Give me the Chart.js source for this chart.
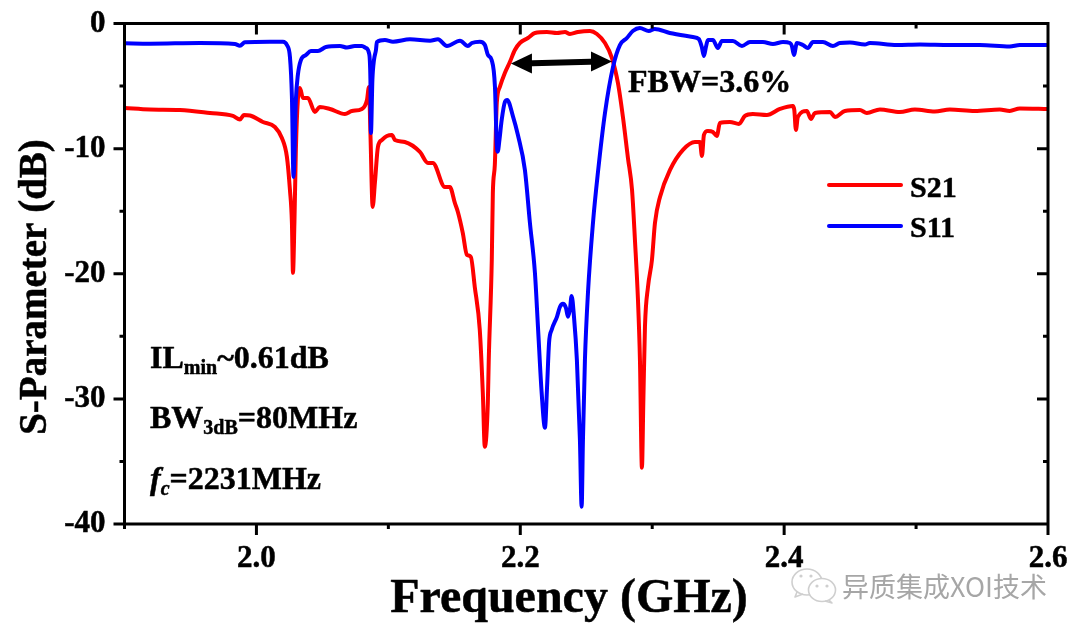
<!DOCTYPE html>
<html>
<head>
<meta charset="utf-8">
<style>html,body{margin:0;padding:0;background:#fff}canvas{display:block}</style>
<script src="https://cdn.jsdelivr.net/npm/chart.js@4/dist/chart.umd.min.js"></script>
</head>
<body>
<canvas id="c" width="1080" height="635"></canvas>
<script>
const s21Freq = [1.9002,1.9193,1.9420,1.9648,1.9822,1.9875,1.9905,1.9951,2.0049,2.0140,2.0193,2.0231,2.0254,2.0269,2.0277,2.0288,2.0299,2.0314,2.0330,2.0352,2.0390,2.0443,2.0481,2.0557,2.0671,2.0724,2.0800,2.0838,2.0853,2.0864,2.0881,2.0898,2.0921,2.0951,2.0989,2.1027,2.1050,2.1125,2.1239,2.1300,2.1337,2.1428,2.1466,2.1504,2.1527,2.1564,2.1595,2.1625,2.1655,2.1693,2.1716,2.1731,2.1754,2.1761,2.1784,2.1792,2.1807,2.1822,2.1845,2.1883,2.1921,2.1959,2.1997,2.2058,2.2111,2.2202,2.2278,2.2339,2.2376,2.2437,2.2528,2.2581,2.2642,2.2695,2.2740,2.2778,2.2816,2.2847,2.2869,2.2892,2.2907,2.2922,2.2933,2.2945,2.2968,2.2998,2.3021,2.3059,2.3135,2.3233,2.3324,2.3362,2.3377,2.3392,2.3422,2.3460,2.3490,2.3513,2.3589,2.3657,2.3703,2.3763,2.3869,2.3968,2.4066,2.4077,2.4089,2.4104,2.4172,2.4203,2.4233,2.4347,2.4385,2.4460,2.4574,2.4627,2.4726,2.4877,2.4991,2.5142,2.5256,2.5445,2.5634,2.5710,2.5786,2.6];
const s21Db = [-6.75,-6.87,-6.91,-7.15,-7.39,-7.67,-7.31,-7.35,-7.87,-8.27,-9.15,-10.66,-13.30,-15.93,-19.93,-15.93,-10.10,-6.11,-5.15,-5.95,-5.95,-7.07,-6.67,-6.83,-7.23,-6.99,-6.83,-6.11,-5.07,-8.75,-14.66,-12.74,-9.86,-9.31,-8.99,-8.91,-9.31,-9.47,-10.26,-11.14,-11.14,-13.06,-13.06,-14.34,-15.06,-16.73,-18.48,-18.65,-21.05,-24.48,-29.51,-33.83,-30.31,-26.88,-18.89,-13.54,-11.30,-6.35,-5.07,-3.95,-3.08,-2.12,-1.56,-1.16,-0.76,-0.68,-0.76,-0.68,-0.84,-0.68,-0.60,-0.84,-1.56,-2.76,-4.75,-7.47,-10.74,-13.30,-17.29,-22.08,-26.88,-35.50,-30.07,-24.24,-21.05,-18.89,-15.93,-13.86,-11.70,-10.10,-9.47,-9.47,-10.58,-8.91,-8.59,-8.67,-8.99,-7.95,-7.87,-8.03,-7.39,-7.23,-7.31,-6.83,-6.59,-6.91,-8.51,-7.47,-6.99,-7.63,-7.15,-7.07,-7.47,-6.99,-6.91,-7.15,-6.87,-7.07,-6.87,-7.03,-6.87,-6.99,-6.87,-6.99,-6.79,-6.83];
const s11Freq = [1.9002,1.9193,1.9572,1.9837,1.9875,1.9913,2.0102,2.0201,2.0231,2.0254,2.0269,2.0281,2.0299,2.0314,2.0337,2.0375,2.0413,2.0466,2.0527,2.0633,2.0686,2.0746,2.0800,2.0830,2.0853,2.0864,2.0868,2.0879,2.0891,2.0906,2.0913,2.0974,2.1035,2.1164,2.1316,2.1376,2.1444,2.1543,2.1603,2.1633,2.1694,2.1732,2.1755,2.1783,2.1808,2.1821,2.1829,2.1842,2.1859,2.1884,2.1901,2.1945,2.1982,2.2035,2.2073,2.2111,2.2134,2.2162,2.2187,2.2203,2.2218,2.2238,2.2278,2.2301,2.2323,2.2346,2.2361,2.2376,2.2389,2.2407,2.2429,2.2452,2.2465,2.2475,2.2490,2.2513,2.2551,2.2589,2.2642,2.2703,2.2755,2.2808,2.2853,2.2906,2.2974,2.3019,2.3133,2.3308,2.3353,2.3376,2.3392,2.3407,2.3422,2.3460,2.3498,2.3528,2.3612,2.3680,2.3741,2.3839,2.3915,2.3991,2.4044,2.4059,2.4074,2.4097,2.4142,2.4180,2.4218,2.4294,2.4370,2.4423,2.4499,2.4612,2.4650,2.4854,2.5029,2.5256,2.5483,2.5710,2.5786,2.6];
const s11Db = [-1.58,-1.61,-1.56,-1.64,-1.77,-1.50,-1.45,-1.45,-1.72,-2.68,-5.87,-12.26,-6.11,-4.11,-2.92,-2.52,-2.20,-2.20,-1.88,-1.80,-1.92,-1.80,-1.80,-1.96,-2.36,-4.51,-8.75,-4.51,-2.92,-2.12,-1.48,-1.32,-1.45,-1.26,-1.37,-1.26,-1.80,-1.37,-1.80,-1.56,-1.45,-1.72,-2.52,-2.92,-5.07,-9.54,-10.24,-9.31,-7.71,-6.25,-6.11,-7.44,-8.91,-11.70,-15.93,-19.93,-24.24,-29.51,-32.31,-29.03,-25.52,-24.48,-23.44,-22.64,-22.40,-22.72,-23.44,-22.88,-21.77,-23.44,-26.88,-33.27,-38.62,-33.27,-26.88,-21.53,-15.93,-11.86,-7.15,-3.47,-1.72,-1.16,-0.60,-0.36,-0.60,-0.44,-0.76,-1.08,-1.24,-1.88,-2.60,-1.88,-1.32,-1.32,-1.96,-1.40,-1.40,-1.80,-1.48,-1.48,-1.64,-1.48,-1.56,-1.80,-2.52,-1.56,-1.72,-1.96,-1.48,-1.48,-1.80,-1.56,-1.52,-1.68,-1.56,-1.72,-1.68,-1.72,-1.72,-1.84,-1.72,-1.72];
const seriesNames = ['S21','S11'];
const arrowFreq = [2.1929,2.2695];
const arrowDb = [-3.2,-3.03];
const xTitle = 'Frequency (GHz)';
const yTitle = 'S-Parameter (dB)';
const watermark = '异质集成XOI技术';

const SERIF = '"Liberation Serif","Times New Roman",serif';
const RED = '#ff0000', BLUE = '#0000ff';
const pairs = (xs, ys) => xs.map((x, i) => ({x, y: ys[i]}));

function runs(ctx, x, y, parts) {
  ctx.textAlign = 'left'; ctx.textBaseline = 'alphabetic'; ctx.fillStyle = '#000'; ctx.strokeStyle = '#000'; ctx.lineWidth = 0.5; ctx.lineJoin = 'round';
  for (const [t, size, dy, italic] of parts) {
    ctx.font = (italic ? 'italic ' : '') + 'bold ' + size + 'px ' + SERIF;
    ctx.fillText(t, x, y + dy);
    ctx.strokeText(t, x, y + dy);
    x += ctx.measureText(t).width;
  }
}

const decor = {
  id: 'decor',
  afterDatasetsDraw(chart) {
    const {ctx, scales: {x, y}, chartArea: a} = chart;
    ctx.save();
    // frame and ticks
    ctx.strokeStyle = '#000'; ctx.lineWidth = 3; ctx.lineCap = 'butt';
    ctx.beginPath();
    ctx.moveTo(a.left - 11, a.top); ctx.lineTo(a.right, a.top);
    ctx.moveTo(a.left, a.bottom); ctx.lineTo(a.right, a.bottom);
    ctx.moveTo(a.left, a.top - 1.5); ctx.lineTo(a.left, a.bottom + 1.5);
    ctx.moveTo(a.right, a.top - 1.5); ctx.lineTo(a.right, a.bottom + 1.5);
    x.ticks.forEach(t => {
      const p = x.getPixelForValue(t.value);
      const major = t.label !== '' && t.label !== undefined;
      const len = (major ? 11 : 5);
      ctx.moveTo(p, a.bottom); ctx.lineTo(p, a.bottom + len);
      ctx.moveTo(p, a.top); ctx.lineTo(p, a.top + len);
    });
    y.ticks.forEach(t => {
      const p = y.getPixelForValue(t.value);
      const major = t.label !== '' && t.label !== undefined;
      const len = (major ? 11 : 5);
      ctx.moveTo(a.left - len, p); ctx.lineTo(a.left, p);
      ctx.moveTo(a.right - len, p); ctx.lineTo(a.right, p);
    });
    ctx.stroke();

    // double arrow
    const x0 = x.getPixelForValue(arrowFreq[0]), y0 = y.getPixelForValue(arrowDb[0]);
    const x1 = x.getPixelForValue(arrowFreq[1]), y1 = y.getPixelForValue(arrowDb[1]);
    ctx.strokeStyle = '#000'; ctx.fillStyle = '#000'; ctx.lineWidth = 6;
    ctx.beginPath(); ctx.moveTo(x0 + 12, y0); ctx.lineTo(x1 - 12, y1); ctx.stroke();
    ctx.beginPath(); ctx.moveTo(x0, y0); ctx.lineTo(x0 + 21, y0 - 10); ctx.lineTo(x0 + 21, y0 + 10); ctx.closePath(); ctx.fill();
    ctx.beginPath(); ctx.moveTo(x1, y1); ctx.lineTo(x1 - 21, y1 - 10); ctx.lineTo(x1 - 21, y1 + 10); ctx.closePath(); ctx.fill();

    // annotations
    runs(ctx, 628, 92, [['FBW=3.6%', 32, 0]]);
    runs(ctx, 150, 368, [['IL', 32, 0], ['min', 20, 6], ['~0.61dB', 32, 0]]);
    runs(ctx, 150, 428, [['BW', 32, 0], ['3dB', 20, 6], ['=80MHz', 32, 0]]);
    runs(ctx, 150, 489, [['f', 32, 0, true], ['c', 20, 6, true], ['=2231MHz', 32, 0]]);

    // legend
    ctx.lineCap = 'round';
    [[RED, 185, 197], [BLUE, 226, 237]].forEach(([col, ly, by], i) => {
      ctx.strokeStyle = col; ctx.lineWidth = 4;
      ctx.beginPath(); ctx.moveTo(829, ly); ctx.lineTo(901, ly); ctx.stroke();
      runs(ctx, 910, by, [[seriesNames[i], 30, 0]]);
    });

    // axis titles
    ctx.fillStyle = '#000'; ctx.strokeStyle = '#000'; ctx.lineWidth = 0.5;
    ctx.font = 'bold 48px ' + SERIF;
    ctx.textAlign = 'center'; ctx.textBaseline = 'alphabetic';
    ctx.fillText(xTitle, 569, 612);
    ctx.strokeText(xTitle, 569, 612);
    ctx.save();
    ctx.translate(46, 287); ctx.rotate(-Math.PI / 2);
    ctx.font = 'bold 39px ' + SERIF;
    ctx.fillText(yTitle, 0, 0);
    ctx.strokeText(yTitle, 0, 0);
    ctx.restore();

    // watermark
    ctx.lineCap = 'butt';
    ctx.strokeStyle = '#cfcfcf'; ctx.lineWidth = 1.6; ctx.fillStyle = '#fff';
    ctx.beginPath(); ctx.ellipse(807, 582, 15, 13, 0, 0, Math.PI * 2); ctx.stroke();
    ctx.beginPath(); ctx.moveTo(797, 592); ctx.lineTo(795, 597); ctx.lineTo(803, 594); ctx.stroke();
    ctx.beginPath(); ctx.ellipse(822, 590, 13.5, 11.5, 0, 0, Math.PI * 2); ctx.fill(); ctx.stroke();
    ctx.beginPath(); ctx.moveTo(829, 600); ctx.lineTo(832, 603); ctx.lineTo(825, 601); ctx.stroke();
    ctx.fillStyle = '#cfcfcf';
    [[801, 576], [811, 576], [817, 586], [827, 586]].forEach(([dx, dy]) => {
      ctx.beginPath(); ctx.arc(dx, dy, 1.6, 0, Math.PI * 2); ctx.fill();
    });
    ctx.font = '27px "Noto Sans CJK SC"';
    ctx.textAlign = 'left'; ctx.textBaseline = 'middle';
    ctx.fillStyle = '#a6a6a6';
    ctx.fillText(watermark, 842, 587);
    ctx.restore();
  }
};

function noEdgePadding(s) {
  s.paddingTop = 0; s.paddingBottom = 0; s.paddingLeft = 0; s.paddingRight = 0;
  if (s._margins) { s._margins.top = 0; s._margins.bottom = 0; s._margins.left = 0; s._margins.right = 0; }
}

new Chart(document.getElementById('c'), {
  type: 'scatter',
  data: {
    datasets: [
      {label: seriesNames[0], data: pairs(s21Freq, s21Db), showLine: true, borderColor: RED, backgroundColor: RED, borderWidth: 4, pointRadius: 0, cubicInterpolationMode: 'monotone', borderJoinStyle: 'round', borderCapStyle: 'round', order: 1},
      {label: seriesNames[1], data: pairs(s11Freq, s11Db), showLine: true, borderColor: BLUE, backgroundColor: BLUE, borderWidth: 4, pointRadius: 0, cubicInterpolationMode: 'monotone', borderJoinStyle: 'round', borderCapStyle: 'round', order: 0}
    ]
  },
  options: {
    responsive: false,
    animation: false,
    layout: {autoPadding: false, padding: {top: 23.5, right: 32, left: 0, bottom: 0}},
    plugins: {legend: {display: false}, tooltip: {enabled: false}},
    scales: {
      x: {
        type: 'linear', min: 1.9, max: 2.6,
        grid: {display: false}, border: {display: false},
        afterFit(s) { s.height = 111; noEdgePadding(s); },
        ticks: {
          stepSize: 0.1, autoSkip: false, maxRotation: 0, padding: 8, color: '#000',
          textStrokeColor: '#000', textStrokeWidth: 0.5,
          font: {family: SERIF, size: 31, weight: 'bold'},
          callback(v) { const n = Math.round(v * 10); return (n >= 20 && n % 2 === 0) ? (n / 10).toFixed(1) : ''; }
        }
      },
      y: {
        type: 'linear', min: -40, max: 0,
        grid: {display: false}, border: {display: false},
        afterFit(s) { s.width = 124.5; noEdgePadding(s); },
        ticks: {
          stepSize: 5, autoSkip: false, padding: 11, color: '#000',
          textStrokeColor: '#000', textStrokeWidth: 0.5,
          font: {family: SERIF, size: 31, weight: 'bold'},
          callback(v) { return v % 10 === 0 ? String(v) : ''; }
        }
      }
    }
  },
  plugins: [decor]
});
</script>
</body>
</html>
